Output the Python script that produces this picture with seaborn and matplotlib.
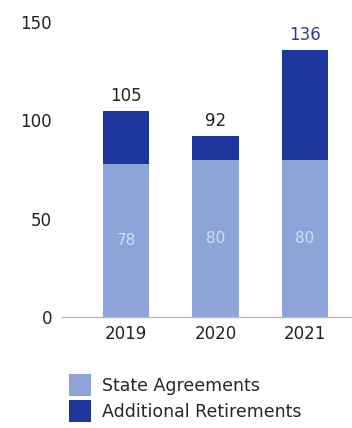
import matplotlib
matplotlib.use("Agg")
import matplotlib.pyplot as plt
import seaborn as sns
import pandas as pd

# Data
years = ["2019", "2020", "2021"]
state_agreements = [78, 80, 80]
totals = [105, 92, 136]
series_labels = ["State Agreements", "Additional Retirements"]
y_ticks = [0, 50, 100, 150]

LIGHT = "#8DA4D8"
DARK = "#1D369E"

sns.set_theme(style="white")
plt.rcParams["font.family"] = ["DejaVu Sans"]

df = pd.DataFrame({"year": years, "state": state_agreements, "total": totals})

fig = plt.figure(figsize=(3.52, 4.28), dpi=100)
ax = fig.add_axes([0.176, 0.2593, 0.824, 0.689])

# Total bar in dark, state agreements layered on top in light
sns.barplot(data=df, x="year", y="total", color=DARK, width=0.515,
            saturation=1, ax=ax, label=series_labels[1],
            edgecolor="none", linewidth=0)
sns.barplot(data=df, x="year", y="state", color=LIGHT, width=0.515,
            saturation=1, ax=ax, label=series_labels[0],
            edgecolor="none", linewidth=0)

ax.set_xlim(-0.715, 2.525)
ax.set_ylim(0, 150)
ax.set_yticks(y_ticks)
ax.set_xlabel("")
ax.set_ylabel("")

for s in ["top", "right", "left"]:
    ax.spines[s].set_visible(False)
ax.spines["bottom"].set_color("#b9b9b9")
ax.spines["bottom"].set_linewidth(1.0)
ax.tick_params(axis="both", length=0, labelsize=12, colors="#222222")
ax.tick_params(axis="y", pad=7)
ax.tick_params(axis="x", pad=6)

# Labels for totals and inner segments
for i, (s, t) in enumerate(zip(state_agreements, totals)):
    col = "#2b3d94" if t == max(totals) else "#222222"
    ax.text(i, t + 3, str(t), ha="center", va="bottom", fontsize=12,
            color=col, clip_on=False)
    ax.text(i, s / 2, str(s), ha="center", va="center", fontsize=11,
            color="#d3ddf2")

handles, labels = ax.get_legend_handles_labels()
order = [labels.index(l) for l in series_labels]
ax.legend([handles[k] for k in order], [labels[k] for k in order],
          loc="upper left", bbox_to_anchor=(0.0, -0.17), frameon=False,
          fontsize=12.5, handlelength=1.3, handleheight=1.6,
          handletextpad=0.6, labelspacing=0.2, borderaxespad=0)

fig.savefig("out.png", dpi=100, facecolor="white")
